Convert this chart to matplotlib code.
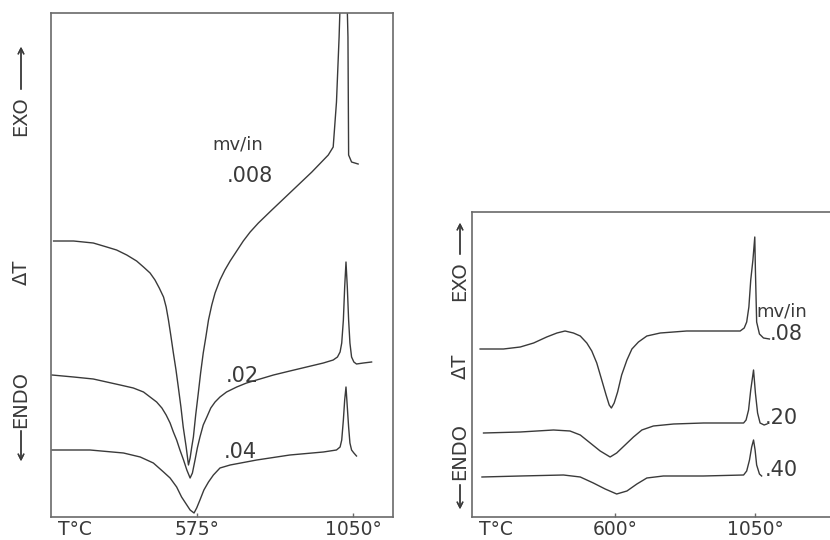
import numpy as np
import matplotlib.pyplot as plt

# DTA traces: temperature (deg C) and chart deflection (arb. units)
# left panel, three sensitivities (mv/in)
t_008 = [138, 199, 259, 300, 330, 361, 391, 412, 432, 447, 460, 473, 481, 488, 495,
         503, 511, 518, 526, 533, 542, 549, 554, 559, 564, 571, 579, 586, 594, 602,
         610, 620, 630, 645, 660, 676, 696, 716, 737, 762, 803, 864, 925, 975, 990,
         1000, 1008, 1023, 1035, 1037, 1046, 1066]
d_008 = [276, 276, 274, 270, 267, 262, 256, 250, 244, 237, 229, 220, 210, 197, 182,
         164, 147, 130, 110, 90, 70, 52, 59, 70, 80, 102, 124, 144, 164, 180,
         197, 212, 224, 237, 247, 256, 266, 276, 285, 294, 307, 326, 345, 362, 370,
         415, 480, 640, 480, 362, 355, 353]

t_02 = [133, 199, 259, 300, 341, 381, 412, 432, 452, 468, 481, 493, 503, 513, 523,
        534, 544, 554, 561, 569, 576, 584, 594, 605, 617, 630, 645, 665, 696, 726,
        767, 808, 858, 909, 960, 990, 1003, 1011, 1016, 1021, 1025, 1029, 1033, 1037,
        1041, 1046, 1053, 1061, 1082, 1107]
d_02 = [142, 140, 138, 135, 132, 129, 125, 120, 115, 109, 102, 94, 85, 77, 67,
        57, 47, 39, 44, 57, 69, 80, 92, 100, 109, 115, 120, 125, 130, 134,
        138, 142, 146, 150, 154, 157, 160, 165, 174, 197, 230, 255, 230, 197,
        174, 160, 155, 153, 154, 155]

t_04 = [133, 249, 351, 402, 442, 473, 493, 513, 528, 544, 554, 566, 574, 584, 596,
        610, 625, 645, 676, 757, 858, 960, 1000, 1011, 1016, 1021, 1025, 1029, 1033,
        1037, 1041, 1046, 1053, 1061]
d_04 = [67, 67, 64, 60, 54, 45, 39, 30, 20, 12, 7, 4, 9, 17, 27,
        35, 42, 49, 52, 57, 62, 65, 67, 70, 77, 97, 117, 130, 110,
        90, 74, 67, 64, 61]

# right panel
t_08 = [166, 241, 295, 338, 380, 413, 439, 466, 488, 509, 525, 541, 557, 571, 581,
        588, 597, 608, 621, 638, 654, 675, 702, 745, 830, 938, 1002, 1015, 1023, 1030,
        1036, 1043, 1049, 1051, 1055, 1064, 1077, 1096]
d_08 = [168, 168, 170, 174, 180, 184, 186, 184, 181, 174, 166, 154, 137, 122, 112,
        109, 114, 125, 142, 157, 168, 175, 181, 184, 186, 186, 186, 189, 195, 210,
        237, 257, 280, 247, 195, 183, 179, 178]

t_20 = [177, 295, 402, 455, 488, 520, 552, 584, 605, 632, 659, 686, 723, 788, 884,
        1013, 1021, 1029, 1036, 1045, 1051, 1058, 1066, 1079, 1088]
d_20 = [84, 85, 87, 86, 82, 74, 66, 60, 64, 72, 80, 87, 91, 93, 94,
        94, 97, 107, 127, 147, 124, 104, 94, 92, 93]

t_40 = [172, 295, 434, 488, 530, 568, 605, 638, 670, 702, 755, 884, 1013, 1023,
        1032, 1039, 1045, 1050, 1055, 1064, 1071]
d_40 = [40, 41, 42, 40, 34, 28, 23, 26, 33, 39, 41, 41, 42, 46,
        57, 70, 77, 67, 52, 43, 41]

ink = "#3a3a3a"
frame = "#6a6a6a"
plt.rcParams['font.family'] = ['DejaVu Sans']

fig = plt.figure(figsize=(8.3, 5.4), dpi=100)
ax1 = fig.add_axes([0.0614, 0.0426, 0.412, 0.9333])
ax2 = fig.add_axes([0.5687, 0.0426, 0.4325, 0.5648])

for t, d in [(t_008, d_008), (t_02, d_02), (t_04, d_04)]:
    ax1.plot(t, d, color=ink, lw=1.0)
for t, d in [(t_08, d_08), (t_20, d_20), (t_40, d_40)]:
    ax2.plot(t, d, color=ink, lw=1.0)

ax1.set_xlim(130, 1172)
ax1.set_ylim(0, 504)
ax2.set_xlim(140, 1294)
ax2.set_ylim(0, 305)

for ax, ticks, labels in [(ax1, [575, 1050], ["575°", "1050°"]),
                          (ax2, [600, 1050], ["600°", "1050°"])]:
    ax.set_xticks(ticks)
    ax.set_xticklabels(labels, fontsize=13.5, color=ink)
    ax.set_yticks([])
    ax.tick_params(axis="x", direction="in", length=3, width=1, color=frame, pad=2)
    for s in ax.spines.values():
        s.set_color(frame)
        s.set_linewidth(1.2)
    ax.annotate("T°C", xy=(0, 0), xycoords="axes fraction", xytext=(5, -2),
                textcoords="offset points", fontsize=13.5, color=ink,
                ha="left", va="top")

# curve labels
ax1.text(700, 373, "mv/in", fontsize=13, color=ink, ha="center", va="center")
ax1.text(736, 341, ".008", fontsize=15, color=ink, ha="center", va="center")
ax1.text(712, 141, ".02", fontsize=15, color=ink, ha="center", va="center")
ax1.text(706, 65, ".04", fontsize=15, color=ink, ha="center", va="center")

ax2.text(1055, 206, "mv/in", fontsize=13, color=ink, ha="left", va="center")
ax2.text(1096, 183, ".08", fontsize=15, color=ink, ha="left", va="center")
ax2.text(1080, 99, ".20", fontsize=15, color=ink, ha="left", va="center")
ax2.text(1080, 47, ".40", fontsize=15, color=ink, ha="left", va="center")


# EXO / dT / ENDO side labels
def side_labels(x, exo, arr_up, dt, endo, arr_dn):
    H = 540.0
    fig.text(x / 830, 1 - exo / H, "EXO", rotation=90, fontsize=14, color=ink,
             ha="center", va="center")
    fig.text(x / 830, 1 - dt / H, "ΔT", rotation=90, fontsize=14, color=ink,
             ha="center", va="center")
    fig.text(x / 830, 1 - endo / H, "ENDO", rotation=90, fontsize=14, color=ink,
             ha="center", va="center")
    fig.add_artist(plt.annotate("", xy=(x / 830, 1 - arr_up[0] / H),
                                xytext=(x / 830, 1 - arr_up[1] / H),
                                xycoords="figure fraction",
                                arrowprops=dict(arrowstyle="->", color=ink, lw=1.0)))
    fig.add_artist(plt.annotate("", xy=(x / 830, 1 - arr_dn[1] / H),
                                xytext=(x / 830, 1 - arr_dn[0] / H),
                                xycoords="figure fraction",
                                arrowprops=dict(arrowstyle="->", color=ink, lw=1.0)))


side_labels(21, 116, (44, 92), 272, 400, (428, 464))
side_labels(460, 281, (220, 257), 366, 452, (482, 512))

fig.savefig("out.png", dpi=100)
